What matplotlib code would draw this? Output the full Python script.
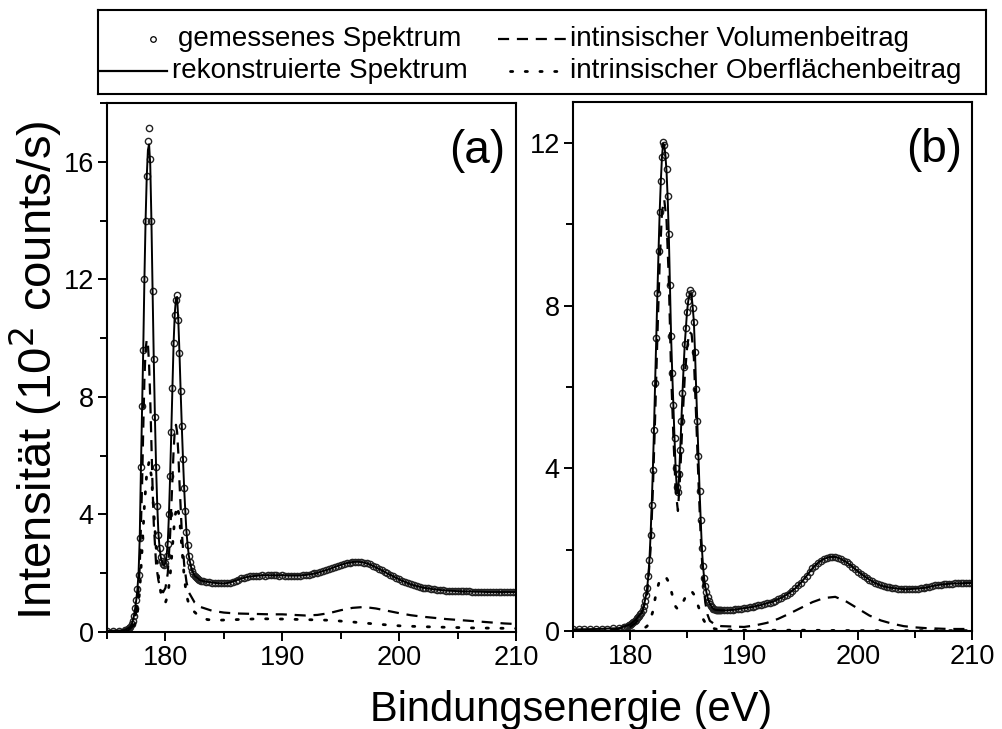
import numpy as np
import matplotlib
matplotlib.use('Agg')
from matplotlib import pyplot as plt
from matplotlib.ticker import MultipleLocator

plt.rcParams['font.family'] = ['Liberation Sans', 'DejaVu Sans']

# ---- (a) measured spectrum, 10^2 counts/s ----
e_a = np.concatenate([np.arange(175.0, 176.6, 0.5),
                      np.round(np.arange(176.6, 183.05, 0.1), 2),
                      np.arange(183.25, 210.01, 0.25)])
meas_a_lo = [0.05, 0.05, 0.05, 0.06]
meas_a_pk = [0.07, 0.08, 0.10, 0.13,
             0.18, 0.26, 0.38, 0.55, 0.80, 1.10, 1.45, 1.95, 3.20, 5.60,
             7.70, 9.60, 12.0, 14.0, 15.5, 16.7, 17.15, 16.1, 14.0, 11.6,
             9.30, 7.30, 5.60, 4.30, 3.30, 2.85, 2.55, 2.42, 2.32, 2.28,
             2.35, 2.60, 3.00, 4.00, 5.30, 6.80, 8.30, 9.85, 10.8, 11.3,
             11.45, 10.6, 9.50, 8.20, 7.00, 5.90, 4.90, 4.10, 3.40, 2.95,
             2.60, 2.38, 2.20, 2.08, 1.98, 1.91, 1.86, 1.82, 1.79, 1.77,
             1.75]
meas_a_hi = [1.73, 1.71, 1.70, 1.68, 1.67, 1.66, 1.66, 1.65,
             1.66, 1.68, 1.71, 1.75, 1.78, 1.82, 1.85, 1.87,
             1.89, 1.90, 1.91, 1.92, 1.93, 1.92, 1.93, 1.94,
             1.93, 1.93, 1.92, 1.93, 1.92, 1.91, 1.92, 1.92,
             1.91, 1.92, 1.93, 1.94, 1.95, 1.97, 1.99, 2.01,
             2.04, 2.07, 2.10, 2.13, 2.17, 2.21, 2.25, 2.28,
             2.31, 2.34, 2.36, 2.38, 2.39, 2.39, 2.38, 2.36,
             2.33, 2.30, 2.25, 2.20, 2.15, 2.10, 2.04, 1.99,
             1.94, 1.89, 1.84, 1.79, 1.74, 1.70, 1.66, 1.62,
             1.59, 1.56, 1.53, 1.51, 1.49, 1.48, 1.46, 1.45,
             1.44, 1.43, 1.42, 1.41, 1.41, 1.40, 1.40, 1.39,
             1.39, 1.38, 1.38, 1.38, 1.37, 1.37, 1.37, 1.37,
             1.36, 1.36, 1.36, 1.36, 1.36, 1.35, 1.36, 1.36,
             1.35, 1.36, 1.36, 1.36]
meas_a = meas_a_lo + meas_a_pk + meas_a_hi

# ---- (a) reconstructed spectrum ----
ef_a = np.concatenate([[175.0, 176.0, 176.5],
                       np.round(np.arange(177.0, 182.55, 0.1), 2),
                       np.arange(183.0, 210.01, 0.5)])
fit_a = [0.04, 0.05, 0.06,
         0.17, 0.25, 0.37, 0.54, 0.78, 1.08, 1.45, 2.00, 3.20, 5.50,
         7.60, 9.60, 12.0, 14.0, 15.5, 16.4, 16.6, 15.9, 14.0, 11.6,
         9.30, 7.30, 5.60, 4.30, 3.35, 2.85, 2.55, 2.40, 2.30, 2.27,
         2.35, 2.60, 3.05, 4.00, 5.30, 6.80, 8.35, 9.85, 10.85, 11.35,
         11.4, 10.6, 9.50, 8.20, 7.00, 5.90, 4.90, 4.10, 3.40, 2.95,
         2.60, 2.38, 2.20, 2.08, 1.98, 1.91,
         1.75, 1.71, 1.68, 1.66, 1.65, 1.68, 1.75, 1.82, 1.87, 1.90,
         1.92, 1.93, 1.93, 1.93, 1.93, 1.92, 1.92, 1.92, 1.94, 1.97,
         2.01, 2.07, 2.13, 2.21, 2.28, 2.34, 2.38, 2.39, 2.36, 2.30,
         2.20, 2.10, 1.99, 1.89, 1.79, 1.70, 1.62, 1.56, 1.51, 1.48,
         1.45, 1.43, 1.41, 1.40, 1.39, 1.38, 1.38, 1.37, 1.37, 1.36,
         1.36, 1.36, 1.36, 1.36, 1.36]

# ---- (a) intrinsic bulk and surface parts ----
ev_a = [175, 176, 176.8, 177.2, 177.4, 177.6, 177.8, 178.0, 178.1, 178.2,
        178.3, 178.4, 178.5, 178.6, 178.7, 178.8, 178.9, 179.0, 179.2, 179.4,
        179.6, 179.8, 180.0, 180.2, 180.4, 180.6, 180.7, 180.8, 180.9, 181.0,
        181.1, 181.2, 181.4, 181.6, 181.8, 182.0, 182.5, 183, 184, 185,
        186, 187, 188, 189, 190, 191, 192, 193, 194, 195,
        196, 197, 198, 199, 200, 201, 202, 203, 204, 205,
        206, 207, 208, 209, 210]
vol_a = [0.0, 0.01, 0.05, 0.20, 0.45, 0.95, 2.20, 5.00, 6.90, 8.60,
         9.60, 9.95, 9.80, 9.10, 7.90, 6.40, 4.90, 3.70, 2.30, 1.75,
         1.45, 1.35, 1.50, 2.00, 3.30, 5.20, 6.20, 6.85, 7.05, 6.80,
         6.10, 5.10, 3.40, 2.30, 1.70, 1.35, 1.00, 0.85, 0.72, 0.66,
         0.63, 0.62, 0.61, 0.60, 0.60, 0.58, 0.56, 0.58, 0.64, 0.74,
         0.82, 0.85, 0.80, 0.72, 0.64, 0.57, 0.52, 0.48, 0.44, 0.41,
         0.38, 0.35, 0.32, 0.29, 0.27]
es_a = [175, 176, 176.8, 177.2, 177.4, 177.6, 177.8, 178.0, 178.2, 178.4,
        178.6, 178.8, 179.0, 179.2, 179.4, 179.6, 179.8, 180.0, 180.2, 180.4,
        180.6, 180.8, 181.0, 181.2, 181.4, 181.6, 181.8, 182.0, 182.3, 182.7,
        183.2, 183.6, 184.5, 186, 188, 190, 192, 194, 196, 198,
        200, 202, 204, 206, 208, 210]
surf_a = [0.0, 0.01, 0.03, 0.12, 0.30, 0.65, 1.40, 2.80, 4.30, 5.40,
          5.80, 5.30, 4.10, 2.90, 1.90, 1.35, 1.05, 1.00, 1.25, 1.90,
          2.90, 3.90, 4.30, 3.90, 2.90, 1.90, 1.25, 0.95, 0.75, 0.60,
          0.48, 0.42, 0.40, 0.42, 0.45, 0.44, 0.42, 0.40, 0.34, 0.27,
          0.21, 0.18, 0.16, 0.14, 0.13, 0.12]

# ---- (b) measured spectrum ----
e_b = np.concatenate([np.arange(175.0, 179.6, 0.5),
                      np.round(np.arange(179.6, 188.05, 0.1), 2),
                      np.arange(188.25, 210.01, 0.25)])
meas_b_lo = [0.04, 0.04, 0.05, 0.05, 0.05, 0.06, 0.06, 0.07, 0.08, 0.09]
meas_b_pk = [0.10, 0.11, 0.12, 0.14,
             0.16, 0.18, 0.20, 0.22, 0.25, 0.28, 0.31, 0.35, 0.38, 0.41,
             0.45, 0.52, 0.62, 0.74, 0.88, 1.05, 1.35, 1.75, 2.35, 3.10,
             3.95, 4.95, 6.10, 7.20, 8.30, 9.35, 10.30, 11.05, 11.65, 12.02,
             11.95, 11.70, 11.35, 10.70, 9.75, 8.50, 7.25, 6.35, 5.55, 4.75,
             4.00, 3.55, 3.42, 3.85, 4.45, 5.15, 5.85, 6.50, 7.05, 7.45,
             7.85, 8.10, 8.28, 8.37, 8.30, 7.95, 7.60, 6.85, 5.95, 5.15,
             4.30, 3.45, 2.72, 2.05, 1.60, 1.30, 1.10, 0.95, 0.83, 0.74,
             0.67, 0.62, 0.58, 0.55, 0.53, 0.52, 0.51, 0.51, 0.51, 0.51,
             0.51]
meas_b_hi = [0.51, 0.51, 0.52, 0.52, 0.53, 0.54, 0.55, 0.56,
             0.57, 0.58, 0.60, 0.61, 0.63, 0.64, 0.66, 0.68,
             0.70, 0.72, 0.75, 0.78, 0.81, 0.85, 0.89, 0.94,
             0.99, 1.05, 1.12, 1.19, 1.27, 1.36, 1.45, 1.54,
             1.61, 1.68, 1.73, 1.77, 1.80, 1.82, 1.83, 1.82,
             1.80, 1.77, 1.73, 1.69, 1.64, 1.58, 1.52, 1.46,
             1.41, 1.36, 1.31, 1.26, 1.22, 1.18, 1.15, 1.12,
             1.10, 1.08, 1.07, 1.06, 1.05, 1.04, 1.04, 1.03,
             1.03, 1.03, 1.03, 1.04, 1.04, 1.05, 1.06, 1.07,
             1.09, 1.10, 1.12, 1.13, 1.14, 1.15, 1.15, 1.16,
             1.16, 1.17, 1.17, 1.17, 1.17, 1.18, 1.18, 1.18]
meas_b = meas_b_lo + meas_b_pk + meas_b_hi

# ---- (b) reconstructed spectrum ----
ef_b = np.concatenate([[175.0, 177.0, 179.0, 180.0],
                       np.round(np.arange(180.5, 187.55, 0.1), 2),
                       np.arange(188.0, 210.01, 0.5)])
fit_b = [0.04, 0.05, 0.07, 0.16,
         0.28, 0.31, 0.35, 0.38, 0.41,
         0.45, 0.52, 0.62, 0.74, 0.88, 1.05, 1.35, 1.75, 2.35, 3.10,
         3.95, 4.95, 6.10, 7.20, 8.30, 9.35, 10.30, 11.05, 11.65, 11.98,
         11.95, 11.70, 11.30, 10.65, 9.75, 8.50, 7.25, 6.35, 5.55, 4.75,
         4.00, 3.50, 3.38, 3.80, 4.45, 5.15, 5.85, 6.50, 7.05, 7.45,
         7.85, 8.10, 8.25, 8.30, 8.25, 7.95, 7.60, 6.85, 5.95, 5.15,
         4.30, 3.45, 2.72, 2.05, 1.60, 1.30, 1.10, 0.95, 0.83, 0.74,
         0.67, 0.62, 0.58, 0.55, 0.53, 0.52,
         0.51, 0.51, 0.52, 0.54, 0.56, 0.58, 0.61, 0.64, 0.68, 0.72,
         0.78, 0.85, 0.94, 1.05, 1.19, 1.36, 1.54, 1.68, 1.77, 1.82,
         1.82, 1.77, 1.69, 1.58, 1.46, 1.36, 1.26, 1.18, 1.12, 1.08,
         1.06, 1.04, 1.03, 1.03, 1.04, 1.05, 1.07, 1.10, 1.13, 1.15,
         1.16, 1.17, 1.17, 1.18, 1.18]

# ---- (b) intrinsic bulk and surface parts ----
ev_b = [175, 178, 180, 180.5, 181, 181.5, 181.8, 182.0, 182.2, 182.4,
        182.6, 182.8, 183.0, 183.2, 183.4, 183.6, 183.8, 184.0, 184.2, 184.4,
        184.6, 184.8, 185.0, 185.2, 185.4, 185.6, 185.8, 186.0, 186.2, 186.4,
        186.6, 186.8, 187.0, 187.5, 188, 189, 190, 191, 192, 193,
        194, 195, 196, 197, 198, 199, 200, 201, 202, 203,
        204, 205, 206, 207, 208, 209, 210]
vol_b = [0.0, 0.01, 0.10, 0.20, 0.40, 0.90, 2.00, 3.45, 5.25, 7.25,
         9.05, 10.3, 10.6, 10.1, 8.65, 6.35, 4.80, 3.45, 2.95, 3.85,
         5.15, 6.25, 6.95, 7.35, 7.30, 6.70, 5.25, 3.70, 2.30, 1.30,
         0.70, 0.40, 0.25, 0.15, 0.12, 0.11, 0.10, 0.14, 0.20, 0.30,
         0.43, 0.57, 0.71, 0.81, 0.84, 0.72, 0.55, 0.38, 0.26, 0.18,
         0.12, 0.09, 0.07, 0.06, 0.05, 0.05, 0.05]
es_b = [175, 180, 181.0, 181.5, 181.8, 182.0, 182.2, 182.4, 182.6, 182.8,
        183.0, 183.2, 183.4, 183.6, 183.8, 184.0, 184.2, 184.4, 184.6, 184.8,
        185.0, 185.2, 185.4, 185.6, 185.8, 186.0, 186.2, 186.4, 186.6, 186.8,
        187.0, 187.5, 188, 190, 195, 200, 205, 210]
surf_b = [0.0, 0.0, 0.02, 0.12, 0.30, 0.48, 0.80, 1.05, 1.25, 1.33,
          1.33, 1.30, 1.20, 1.00, 0.78, 0.60, 0.53, 0.58, 0.68, 0.80,
          0.92, 0.98, 0.98, 0.90, 0.76, 0.60, 0.44, 0.30, 0.20, 0.13,
          0.09, 0.05, 0.03, 0.02, 0.02, 0.01, 0.01, 0.01]

x_ticks = [180, 190, 200, 210]
legend_labels = ['gemessenes Spektrum', 'rekonstruierte Spektrum',
                 'intinsischer Volumenbeitrag', 'intrinsischer Oberflächenbeitrag']

DASH = (0, (5, 3.5))
DOT = (0, (0.8, 4.5))


def draw_panel(ax, e, meas, ef, fit, ev, vol, es, surf, ymax, yticks, tag):
	ax.plot(e, meas, 'o', ms=4.5, mfc='none', mec='#222222', mew=1.0, zorder=2)
	ax.plot(ef, fit, '-', color='k', lw=1.4, zorder=3)
	ax.plot(ev, vol, color='k', lw=1.6, linestyle=DASH, zorder=4)
	ax.plot(es, surf, color='k', lw=2.0, linestyle=DOT, dash_capstyle='round', zorder=4)

	ax.set_xlim(175, 210)
	ax.set_ylim(0, ymax)
	ax.set_xticks(x_ticks)
	ax.set_yticks(yticks)
	ax.xaxis.set_minor_locator(MultipleLocator(5))
	ax.yaxis.set_minor_locator(MultipleLocator(2))
	ax.tick_params(which='major', direction='out', length=6.5, width=1.4,
				   labelsize=19.5, pad=3)
	ax.tick_params(which='minor', direction='out', length=5, width=1.4)
	for s in ax.spines.values():
		s.set_linewidth(1.5)
	ax.text(0.905, 0.91, tag, transform=ax.transAxes, fontsize=33,
			ha='center', va='center')


def main():
	fig = plt.figure(figsize=(10.02, 7.29), dpi=100)

	ax_a = fig.add_axes([0.1068, 0.1331, 0.4082, 0.7256])
	ax_b = fig.add_axes([0.5719, 0.1344, 0.3982, 0.7256])

	draw_panel(ax_a, e_a, meas_a, ef_a, fit_a, ev_a, vol_a, es_a, surf_a,
			   18, [0, 4, 8, 12, 16], '(a)')
	draw_panel(ax_b, e_b, meas_b, ef_b, fit_b, ev_b, vol_b, es_b, surf_b,
			   13, [0, 4, 8, 12], '(b)')

	fig.text(0.035, 0.492, 'Intensität (10$^2$ counts/s)', rotation=90,
			 fontsize=34, ha='center', va='center')
	fig.text(0.57, 0.011, 'Bindungsenergie (eV)', fontsize=30,
			 ha='center', va='baseline')

	# legend box on top, spanning both panels
	lax = fig.add_axes([0.0978, 0.8711, 0.8862, 0.1152])
	lax.set_xlim(0, 1)
	lax.set_ylim(0, 1)
	lax.set_xticks([])
	lax.set_yticks([])
	for s in lax.spines.values():
		s.set_linewidth(1.5)
	r1, r2 = 0.65, 0.27
	lax.plot([0.062], [r1], 'o', ms=4, mfc='none', mec='k', mew=0.9)
	lax.plot([0.002, 0.078], [r2, r2], '-', color='k', lw=1.6)
	lax.plot([0.45, 0.529], [r1, r1], color='k', lw=1.6, linestyle=DASH)
	lax.plot([0.464, 0.527], [r2, r2], color='k', lw=2.0, linestyle=DOT,
			 dash_capstyle='round')
	lax.text(0.090, r1, legend_labels[0], fontsize=20, va='center')
	lax.text(0.083, r2, legend_labels[1], fontsize=20, va='center')
	lax.text(0.5315, r1, legend_labels[2], fontsize=20, va='center')
	lax.text(0.5315, r2, legend_labels[3], fontsize=20, va='center')

	fig.savefig('out.png', dpi=100)


if __name__ == '__main__':
	main()
